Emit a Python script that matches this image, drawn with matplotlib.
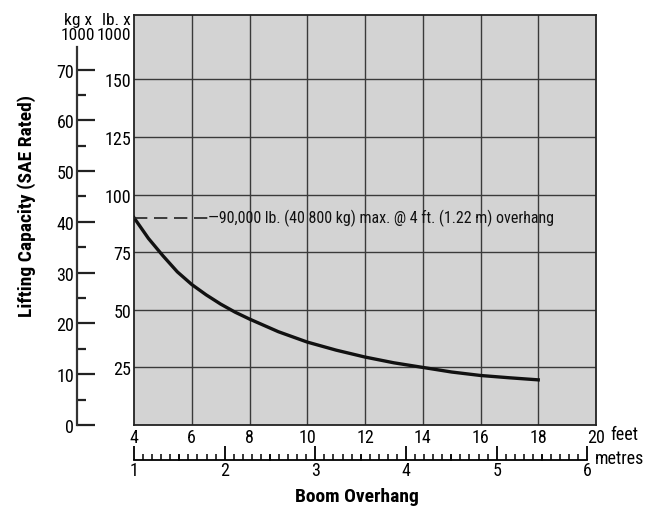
import matplotlib.pyplot as plt
from matplotlib import font_manager
import numpy as np

# data
feet = [4, 4.5, 5, 5.5, 6, 6.5, 7, 7.5, 8, 9, 10, 11, 12, 13, 14, 15, 16, 17, 18]
capacity_lb = [90, 81, 73.5, 66.5, 61, 56.5, 52.5, 49, 46, 40.5, 36, 32.5, 29.5,
               27, 25, 23, 21.5, 20.5, 19.6]
lb_ticks = [25, 50, 75, 100, 125, 150]
kg_ticks = [0, 10, 20, 30, 40, 50, 60, 70]
ft_ticks = [4, 6, 8, 10, 12, 14, 16, 18, 20]
m_ticks = [1, 2, 3, 4, 5, 6]
max_note = "\u201490,000 lb. (40 800 kg) max. @ 4 ft. (1.22 m) overhang"

LB_PER_KG = 2.20462
FT_PER_M = 3.28084

# the original uses a condensed face; take one if the system has it
names = {f.name for f in font_manager.fontManager.ttflist}
narrow = [n for n in ['Roboto Condensed', 'Liberation Sans Narrow',
                      'DejaVu Sans Condensed', 'Open Sans Condensed'] if n in names]
if narrow:
    plt.rcParams['font.family'] = [narrow[0], 'DejaVu Sans']
    fs, note_fs, lab_fs = 13, 11.5, 14
else:
    plt.rcParams['font.family'] = ['DejaVu Sans']
    fs, note_fs, lab_fs = 10.5, 9, 12

W, H = 653, 510
fig = plt.figure(figsize=(W / 100, H / 100), dpi=100)

# main plot area (pixel positions from the reference)
left, right, top, bottom = 134, 596, 16, 426
ax = fig.add_axes([left / W, 1 - bottom / H, (right - left) / W, (bottom - top) / H])
ax.set_facecolor('#d3d3d3')
ax.set_xlim(4, 20)
ax.set_ylim(0, 178)
ax.set_xticks(ft_ticks)
ax.set_yticks(lb_ticks)
ax.tick_params(axis='both', length=0, labelsize=fs, pad=2)
for x in ft_ticks[1:-1]:
    ax.axvline(x, color='#3a3a3a', lw=1.0, zorder=1)
for y in lb_ticks:
    ax.axhline(y, color='#3a3a3a', lw=1.0, zorder=1)
for s in ax.spines.values():
    s.set_color('#222222')
    s.set_linewidth(1.3)

ax.plot(feet, capacity_lb, color='#111111', lw=2.4, zorder=3,
        solid_joinstyle='round')
ax.plot([4, 6.55], [capacity_lb[0], capacity_lb[0]], color='#222222', lw=1.2,
        dashes=(8, 4), zorder=3)
ax.text(6.55, capacity_lb[0], max_note, ha='left', va='center', fontsize=note_fs,
        color='#111111', zorder=4)

ax.text(20.5, -4.0, 'feet', ha='left', va='center', fontsize=fs, clip_on=False)

# kg axis
kx = 77
kax = fig.add_axes([kx / W, 1 - bottom / H, 0.05, (bottom - top) / H])
kax.patch.set_visible(False)
kax.set_ylim(0, 178 / LB_PER_KG)
for k in ['top', 'right', 'bottom']:
    kax.spines[k].set_visible(False)
kax.spines['left'].set_bounds(0, 74.5)
kax.spines['left'].set_linewidth(1.6)
kax.spines['left'].set_color('#333333')
kax.set_xticks([])
kax.set_yticks(kg_ticks)
kax.set_yticks(np.arange(5, 70, 10), minor=True)
kax.tick_params(axis='y', which='major', direction='in', length=13, width=1.6,
                labelsize=fs, pad=2, color='#222222')
kax.tick_params(axis='y', which='minor', direction='in', length=6.5, width=1.6,
                color='#222222')

fig.text(78 / W, 1 - 13 / H, 'kg x\n1000', ha='center', va='top', fontsize=fs - 0.5,
         linespacing=1.0)
fig.text(131 / W, 1 - 13 / H, 'lb. x\n1000', ha='right', va='top', fontsize=fs - 0.5,
         linespacing=1.0)

# metres axis
my = 461
max_ = fig.add_axes([left / W, 1 - my / H, (right - left) / W, 0.02])
max_.patch.set_visible(False)
max_.set_xlim(4 / FT_PER_M, 20 / FT_PER_M)
max_.set_ylim(0, 1)
for k in ['top', 'right', 'left']:
    max_.spines[k].set_visible(False)
max_.spines['bottom'].set_bounds(1, 6)
max_.spines['bottom'].set_linewidth(1.3)
max_.set_yticks([])
max_.set_xticks(m_ticks)
max_.set_xticks(np.round(np.arange(1.1, 6.0, 0.1), 2), minor=True)
max_.tick_params(axis='x', which='major', direction='in', length=10, width=1.3,
                 labelsize=fs, pad=1)
max_.tick_params(axis='x', which='minor', direction='in', length=4.5, width=1.1)
for m in np.arange(1.5, 6, 1.0):
    max_.plot([m, m], [0, 0.45], color='black', lw=1.1,
              transform=max_.get_xaxis_transform(), clip_on=False)
max_.text(6.08, 0.2, 'metres', ha='left', va='center', fontsize=fs,
          transform=max_.get_xaxis_transform())

fig.text(357 / W, 1 - 497 / H, 'Boom Overhang', ha='center', va='center',
         fontsize=lab_fs, fontweight='bold')
fig.text(27 / W, 1 - 206 / H, 'Lifting Capacity (SAE Rated)', ha='center',
         va='center', rotation=90, fontsize=lab_fs, fontweight='bold')

fig.savefig('out.png', dpi=100)
